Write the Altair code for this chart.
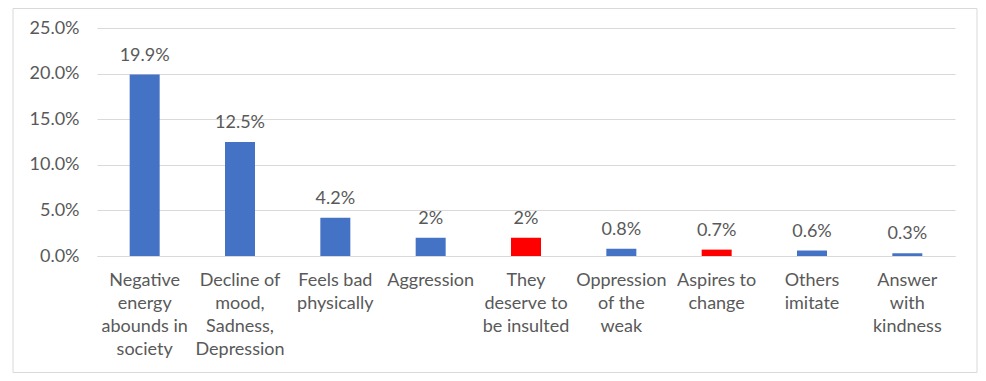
import altair as alt
import pandas as pd

categories = [
    "Negative|energy|abounds in|society",
    "Decline of|mood,|Sadness,|Depression",
    "Feels bad|physically",
    "Aggression",
    "They|deserve to|be insulted",
    "Oppression|of the|weak",
    "Aspires to|change",
    "Others|imitate",
    "Answer|with|kindness",
]
values = [0.199, 0.125, 0.042, 0.02, 0.02, 0.008, 0.007, 0.006, 0.003]
value_labels = ["19.9%", "12.5%", "4.2%", "2%", "2%", "0.8%", "0.7%", "0.6%", "0.3%"]
bar_colors = ["#4472C4", "#4472C4", "#4472C4", "#4472C4", "#FF0000",
              "#4472C4", "#FF0000", "#4472C4", "#4472C4"]

df = pd.DataFrame({"cat": categories, "val": values, "lab": value_labels, "col": bar_colors})

FONT = "Lato"
TXT = "#595959"

x_enc = alt.X(
    "cat:N", sort=None, title=None,
    scale=alt.Scale(paddingInner=0, paddingOuter=0),
    axis=alt.Axis(labelExpr="split(datum.label, '|')", labelAngle=0, labelFont=FONT,
                  labelFontSize=18, labelColor=TXT, labelLineHeight=23, labelPadding=15,
                  labelBaseline="top", ticks=False, domain=True, domainColor="#d9d9d9",
                  grid=False, labelLimit=200),
)
y_enc = alt.Y(
    "val:Q", title=None,
    scale=alt.Scale(domain=[0, 0.25], nice=False),
    axis=alt.Axis(format=".1%", values=[0, 0.05, 0.1, 0.15, 0.2, 0.25], labelFont=FONT,
                  labelFontSize=18, labelColor=TXT, labelPadding=18, ticks=False,
                  domain=False, grid=True, gridColor="#d9d9d9"),
)

base = alt.Chart(df)
bars = base.mark_bar(size=30).encode(x=x_enc, y=y_enc, color=alt.Color("col:N", scale=None))
texts = base.mark_text(baseline="bottom", dy=-10, font=FONT, fontSize=18, color=TXT).encode(
    x=alt.X("cat:N", sort=None), y="val:Q", text="lab:N")

frame = alt.Chart(pd.DataFrame({"a": [0]})).mark_rect(
    filled=False, stroke="#d9d9d9", strokeWidth=1
).encode(x=alt.value(-84), x2=alt.value(880), y=alt.value(-19.5), y2=alt.value(344.5))

chart = alt.layer(frame, bars, texts).properties(
    width=858, height=228,
    autosize=alt.AutoSizeParams(type="none"),
    padding={"left": 89, "top": 20, "right": 23, "bottom": 117},
).configure_view(stroke=None)

chart.save("out.html", embed_options={"renderer": "svg", "actions": False})
